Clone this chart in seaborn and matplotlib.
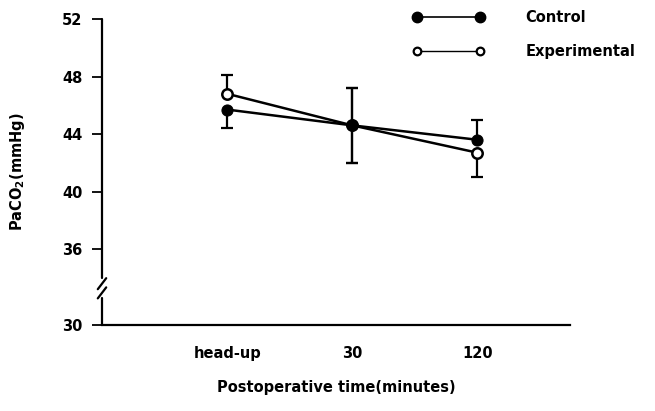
import matplotlib
matplotlib.use("Agg")
import matplotlib.pyplot as plt
import seaborn as sns
import pandas as pd
import numpy as np
from matplotlib.lines import Line2D

# ---- data ----
times = ["head-up", "30", "120"]
control_mean = [45.7, 44.6, 43.6]
control_err_up = [0.0, 2.6, 1.4]
control_err_down = [1.3, 2.6, 0.0]
exp_mean = [46.8, 44.6, 42.7]
exp_err_up = [1.3, 2.6, 0.0]
exp_err_down = [0.0, 2.6, 1.7]
y_ticks = [30, 36, 40, 44, 48, 52]
y_tick_labels = ["30", "36", "40", "44", "48", "52"]

sns.set_theme(style="white")
plt.rcParams["font.family"] = ["DejaVu Sans"]
plt.rcParams["font.weight"] = "bold"
plt.rcParams["text.color"] = "black"
plt.rcParams["mathtext.fontset"] = "dejavusans"
plt.rcParams["mathtext.default"] = "bf"

FS = 10.5
fig = plt.figure(figsize=(6.55, 4.11), dpi=100)
ax = fig.add_axes([102/655, 1-325/411, (570-102)/655, (325-19)/411])

# broken-axis scale: compress the region below 36
K = 0.881
def fwd(v):
    v = np.asarray(v, dtype=float)
    return np.where(v >= 36, v, 36 - (36 - v) * K)
def inv(v):
    v = np.asarray(v, dtype=float)
    return np.where(v >= 36, v, 36 - (36 - v) / K)
ax.set_yscale("function", functions=(fwd, inv))

df_c = pd.DataFrame({"time": times, "value": control_mean})
df_e = pd.DataFrame({"time": times, "value": exp_mean})

sns.lineplot(data=df_e, x="time", y="value", sort=False, ax=ax, color="black",
             linewidth=1.8, marker="o", markersize=7.5, markerfacecolor="white",
             markeredgecolor="black", markeredgewidth=1.8, zorder=4)
sns.lineplot(data=df_c, x="time", y="value", sort=False, ax=ax, color="black",
             linewidth=1.8, marker="o", markersize=8, markerfacecolor="black",
             markeredgecolor="black", zorder=5)

# one-sided error bars
xpos = np.arange(len(times))
def draw_err(mean, up, down):
    mean = np.asarray(mean); up = np.asarray(up); down = np.asarray(down)
    for ends, mask in [(mean + up, up > 0), (mean - down, down > 0)]:
        ax.vlines(xpos[mask], mean[mask], ends[mask], color="black", linewidth=1.6, zorder=3)
        ax.plot(xpos[mask], ends[mask], linestyle="none", marker="_", markersize=9,
                markeredgewidth=1.6, color="black", zorder=3)
draw_err(control_mean, control_err_up, control_err_down)
draw_err(exp_mean, exp_err_up, exp_err_down)

ax.set_xlim(-1.0, 2.74)
ax.set_ylim(30, 52)
ax.set_yticks(y_ticks)
ax.set_yticklabels(y_tick_labels)

for s in ["top", "right", "left"]:
    ax.spines[s].set_visible(False)
ax.spines["bottom"].set_linewidth(1.6)
ax.spines["bottom"].set_color("black")

# left spine with break
seg_kw = dict(transform=ax.transAxes, color="black", linewidth=1.6, clip_on=False, zorder=5)
ax.add_line(Line2D([0, 0], [0, 0.088], **seg_kw))
ax.add_line(Line2D([0, 0], [0.152, 1], **seg_kw))
for yc in [0.105, 0.135]:
    ax.add_line(Line2D([-0.009, 0.009], [yc - 0.018, yc + 0.018], **seg_kw))

ax.tick_params(axis="y", direction="out", length=7, width=1.3, color="black",
               left=True, pad=7, labelsize=FS, labelcolor="black")
ax.tick_params(axis="x", length=0, pad=15, labelsize=FS, labelcolor="black")
for lab in ax.get_xticklabels() + ax.get_yticklabels():
    lab.set_fontweight("bold")

ax.set_xlabel("Postoperative time(minutes)", fontsize=FS, fontweight="bold",
              labelpad=14, color="black")
ax.set_ylabel("PaCO$_2$(mmHg)", fontsize=FS, fontweight="bold",
              labelpad=25, color="black")

handles = [
    Line2D([], [], color="black", linewidth=1.2, marker="o", markersize=7.5,
           markerfacecolor="black", markeredgecolor="black"),
    Line2D([], [], color="black", linewidth=1.0, marker="o", markersize=5.5,
           markerfacecolor="white", markeredgecolor="black", markeredgewidth=1.6),
]
leg = fig.legend(handles, ["Control", "Experimental"], loc="upper left",
                 bbox_to_anchor=(413/655, 1 - 10/411), bbox_transform=fig.transFigure,
                 frameon=False, numpoints=2, handlelength=4.9, handletextpad=2.8,
                 labelspacing=1.3, borderpad=0, borderaxespad=0,
                 prop={"size": FS, "weight": "bold"})

fig.savefig("out.png", dpi=100)
